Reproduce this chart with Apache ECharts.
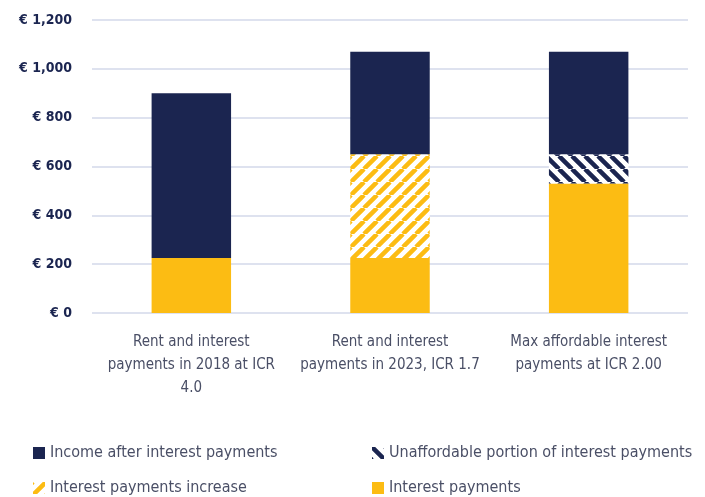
<!DOCTYPE html>
<html>
<head>
<meta charset="utf-8">
<script src="https://cdn.jsdelivr.net/npm/echarts@6/dist/echarts.min.js"></script>
<style>
  html, body { margin: 0; padding: 0; background: #fff; }
  #chart { width: 705px; height: 497px; }
</style>
</head>
<body>
<div id="chart"></div>
<script>
// 数据
const categories = [
    'Rent and interest\npayments in 2018 at ICR\n4.0',
    'Rent and interest\npayments in 2023, ICR 1.7',
    'Max affordable interest\npayments at ICR 2.00'
];
const interestPayments = [225, 225, 530];
const interestIncrease = [0, 425, 0];
const unaffordablePortion = [0, 0, 120];
const incomeAfterInterest = [675, 420, 420];

const NAVY = '#1b2550';
const YELLOW = '#fcbc13';
const FONT = '"Liberation Sans Narrow", "DejaVu Sans Condensed", sans-serif';

// 斜线填充
function makeHatch(color, dir) {
    const size = 13;
    const c = document.createElement('canvas');
    c.width = size; c.height = size;
    const ctx = c.getContext('2d');
    ctx.fillStyle = '#fff';
    ctx.fillRect(0, 0, size, size);
    ctx.strokeStyle = color;
    ctx.lineWidth = 4.5;
    ctx.beginPath();
    if (dir === '/') {
        for (let k = -1; k <= 1; k++) {
            ctx.moveTo(k * size, size);
            ctx.lineTo(k * size + size, 0);
        }
    } else {
        for (let k = -1; k <= 1; k++) {
            ctx.moveTo(k * size, 0);
            ctx.lineTo(k * size + size, size);
        }
    }
    ctx.stroke();
    return { image: c, repeat: 'repeat' };
}

const chart = echarts.init(document.getElementById('chart'));

function legendAt(name, left, top) {
    return {
        data: [name],
        left: left,
        top: top,
        itemWidth: 12,
        itemHeight: 12,
        itemGap: 4,
        icon: 'rect',
        textStyle: { color: '#4a4f66', fontSize: 16, fontFamily: FONT }
    };
}

chart.setOption({
    animation: false,
    grid: { left: 92, right: 17, top: 20, bottom: 184 },
    legend: [
        legendAt('Income after interest payments', 28, 440),
        legendAt('Unaffordable portion of interest payments', 367, 440),
        legendAt('Interest payments increase', 28, 475),
        legendAt('Interest payments', 367, 475)
    ],
    xAxis: {
        type: 'category',
        data: categories,
        axisLine: { show: false },
        axisTick: { show: false },
        axisLabel: {
            color: '#4a4f66',
            fontSize: 15,
            lineHeight: 23,
            margin: 18,
            fontFamily: FONT,
            interval: 0
        }
    },
    yAxis: {
        type: 'value',
        min: 0,
        max: 1200,
        interval: 200,
        axisLine: { show: false },
        axisTick: { show: false },
        splitLine: { lineStyle: { color: '#d3d8ea', width: 1.5 } },
        axisLabel: {
            color: NAVY,
            fontSize: 14,
            fontWeight: 'bold',
            margin: 20,
            fontFamily: FONT,
            formatter: v => '€ ' + v.toLocaleString('en-US')
        }
    },
    series: [
        {
            name: 'Interest payments',
            type: 'bar',
            stack: 'total',
            barWidth: '40%',
            data: interestPayments,
            itemStyle: { color: YELLOW }
        },
        {
            name: 'Interest payments increase',
            type: 'bar',
            stack: 'total',
            data: interestIncrease,
            itemStyle: { color: makeHatch(YELLOW, '/') }
        },
        {
            name: 'Unaffordable portion of interest payments',
            type: 'bar',
            stack: 'total',
            data: unaffordablePortion,
            itemStyle: { color: makeHatch(NAVY, '\\') }
        },
        {
            name: 'Income after interest payments',
            type: 'bar',
            stack: 'total',
            data: incomeAfterInterest,
            itemStyle: { color: NAVY }
        }
    ]
});
</script>
</body>
</html>
